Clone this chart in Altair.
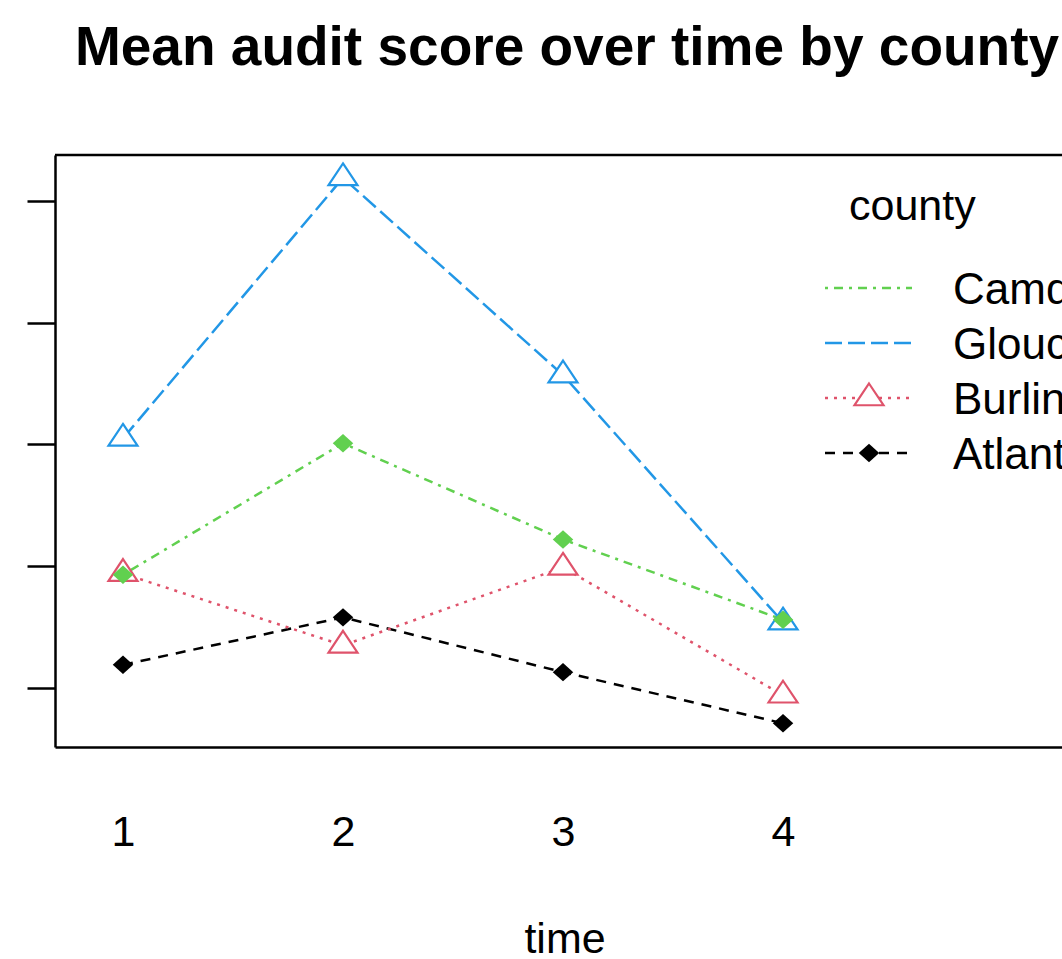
import altair as alt
import pandas as pd

# ---- text -------------------------------------------------------------
TITLE = "Mean audit score over time by county"
X_TITLE = "time"
LEGEND_TITLE = "county"

# ---- data -------------------------------------------------------------
times = [1, 2, 3, 4]
counties = ["Atlantic", "Burlington", "Camden", "Gloucester"]
legend_order = ["Camden", "Gloucester", "Burlington", "Atlantic"]

atlantic = [4.19, 4.58, 4.13, 3.71]
burlington = [4.94, 4.35, 4.99, 3.94]
camden = [4.93, 6.01, 5.22, 4.56]
gloucester = [6.05, 8.19, 6.57, 4.54]

x_ticks = [1, 2, 3, 4]
y_ticks = [4, 5, 6, 7, 8]

# ---- styling ----------------------------------------------------------
FONT = "Liberation Sans"
colors = ["#000000", "#DF536B", "#61D04F", "#2297E6"]
dashes = [[10, 8], [3, 6], [3, 6, 9, 6], [17, 6]]
open_counties = ["Gloucester", "Burlington"]     # hollow triangles
solid_counties = ["Camden", "Atlantic"]          # filled diamonds
TRIANGLE = "M0,-1L1,0.5L-1,0.5Z"
DIAMOND = "M0,-0.9L1,0L0,0.9L-1,0Z"
LINE_W = 2.5

PLOT_W, PLOT_H = 1007, 592
PAD = {"left": 55, "top": 155, "right": 0, "bottom": 212}
X_DOMAIN = [0.691, 5.268]
Y_DOMAIN = [3.515, 8.378]
FRAME_W = 2.5

series = {"Atlantic": atlantic, "Burlington": burlington,
          "Camden": camden, "Gloucester": gloucester}
df = pd.DataFrame(
    [{"county": c, "time": t, "score": v}
     for c in counties for t, v in zip(times, series[c])]
)
legend_df = pd.DataFrame({"county": legend_order,
                          "row": list(range(len(legend_order)))})

color_scale = alt.Scale(domain=counties, range=colors)
dash_scale = alt.Scale(domain=counties, range=dashes)

x_enc = alt.X(
    "time:Q",
    scale=alt.Scale(domain=X_DOMAIN, nice=False, zero=False),
    axis=alt.Axis(values=x_ticks, format="d", title=None, grid=False,
                  ticks=False, tickSize=0, domain=True, domainColor="black",
                  domainWidth=FRAME_W, labelFontSize=43, labelFont=FONT,
                  labelColor="black", labelPadding=98,
                  labelBaseline="alphabetic"),
)
y_enc = alt.Y(
    "score:Q",
    scale=alt.Scale(domain=Y_DOMAIN, nice=False, zero=False),
    axis=alt.Axis(values=y_ticks, labels=False, title=None, grid=False,
                  ticks=True, tickSize=28, tickWidth=FRAME_W,
                  tickColor="black", domain=True, domainColor="black",
                  domainWidth=FRAME_W),
)

base = alt.Chart(df)

lines = base.mark_line(strokeWidth=LINE_W).encode(
    x=x_enc,
    y=y_enc,
    color=alt.Color("county:N", scale=color_scale, legend=None),
    strokeDash=alt.StrokeDash("county:N", scale=dash_scale, legend=None),
)

triangles = base.transform_filter(
    alt.FieldOneOfPredicate(field="county", oneOf=open_counties)
).mark_point(shape=TRIANGLE, size=841, fill="white", fillOpacity=1,
             strokeWidth=2.2, opacity=1).encode(
    x="time:Q",
    y="score:Q",
    stroke=alt.Stroke("county:N", scale=color_scale, legend=None),
)

diamonds = base.transform_filter(
    alt.FieldOneOfPredicate(field="county", oneOf=solid_counties)
).mark_point(shape=DIAMOND, size=420, filled=True, opacity=1).encode(
    x="time:Q",
    y="score:Q",
    color=alt.Color("county:N", scale=color_scale, legend=None),
)

# top edge of the frame (left and bottom come from the axis domains)
top_edge = alt.Chart(pd.DataFrame({"k": [0]})).mark_rule(
    color="black", strokeWidth=FRAME_W
).encode(x=alt.value(0), x2=alt.value(PLOT_W), y=alt.value(0))

# ---- legend inside the panel -------------------------------------------
leg = alt.Chart(legend_df).transform_calculate(ly="133 + 55 * datum.row")
leg_y = alt.Y("ly:Q", scale=None, axis=None)

leg_lines = leg.mark_rule(strokeWidth=LINE_W).encode(
    x=alt.value(770), x2=alt.value(857), y=leg_y,
    color=alt.Color("county:N", scale=color_scale, legend=None),
    strokeDash=alt.StrokeDash("county:N", scale=dash_scale, legend=None),
)
leg_tri = leg.transform_filter(alt.datum.county == "Burlington").mark_point(
    shape=TRIANGLE, size=841, fill="white", fillOpacity=1, strokeWidth=2.2,
    opacity=1
).encode(
    x=alt.value(814), y=leg_y,
    stroke=alt.Stroke("county:N", scale=color_scale, legend=None),
)
leg_dia = leg.transform_filter(alt.datum.county == "Atlantic").mark_point(
    shape=DIAMOND, size=420, filled=True, opacity=1
).encode(
    x=alt.value(814), y=leg_y,
    color=alt.Color("county:N", scale=color_scale, legend=None),
)
leg_text = leg.mark_text(align="left", baseline="alphabetic", dy=16,
                         fontSize=44, font=FONT, color="black").encode(
    x=alt.value(898), y=leg_y, text="county:N",
)
leg_title = alt.Chart(pd.DataFrame({"t": [LEGEND_TITLE]})).mark_text(
    align="left", baseline="alphabetic", fontSize=43, font=FONT,
    color="black"
).encode(x=alt.value(794), y=alt.value(65), text="t:N")

# ---- titles ---------------------------------------------------------------
main_title = alt.Chart(pd.DataFrame({"t": [TITLE]})).mark_text(
    align="center", baseline="alphabetic", fontSize=55, fontWeight="bold",
    font=FONT, color="black"
).encode(x=alt.value(512), y=alt.value(-90), text="t:N")

x_title = alt.Chart(pd.DataFrame({"t": [X_TITLE]})).mark_text(
    align="center", baseline="alphabetic", fontSize=43, font=FONT,
    color="black"
).encode(x=alt.value(510), y=alt.value(PLOT_H + 206), text="t:N")

chart = alt.layer(
    lines, triangles, diamonds, top_edge,
    leg_lines, leg_tri, leg_dia, leg_text, leg_title,
    main_title, x_title,
).properties(
    width=PLOT_W, height=PLOT_H, padding=PAD,
    autosize=alt.AutoSizeParams(type="none"),
    background="white",
).configure_view(strokeWidth=0)

chart.save("out.html", embed_options={"renderer": "svg", "actions": False})
